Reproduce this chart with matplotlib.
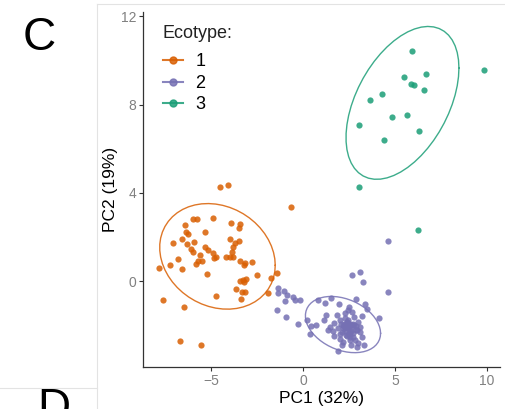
import numpy as np
import matplotlib
matplotlib.use("Agg")
import matplotlib.pyplot as plt
from matplotlib.lines import Line2D

plt.rcParams['font.family'] = ['Liberation Sans', 'DejaVu Sans']

# PCA scores
eco1_x = [-4.49, -4.09, -0.65, -5.98, -5.76, -4.91, -3.93, -3.44, -3.48, -6.41,
          -6.34, -6.23, -5.33, -6.59, -7.08, -6.32, -5.92, -6.09, -6.00, -3.99,
          -3.70, -3.48, -3.80, -3.84, -5.33, -5.15, -4.87, -4.71, -4.85, -5.60,
          -5.69, -5.51, -5.82, -4.20, -3.97, -3.80, -6.81, -7.23, -7.81, -6.58,
          -5.24, -3.42, -3.15, -3.21, -2.75, -2.50, -1.41, -1.76, -3.10, -3.28,
          -3.44, -3.22, -3.64, -3.30, -3.17, -4.73, -3.39, -1.90, -7.61, -6.48,
          -6.67, -5.54]
eco1_y = [4.26, 4.35, 3.35, 2.82, 2.80, 2.85, 2.62, 2.58, 2.41, 2.52,
          2.24, 2.12, 2.21, 1.89, 1.74, 1.70, 1.77, 1.47, 1.32, 1.89,
          1.74, 1.82, 1.53, 1.33, 1.53, 1.41, 1.26, 1.08, 1.06, 1.18,
          0.92, 0.89, 0.77, 1.11, 1.08, 1.09, 1.02, 0.74, 0.58, 0.53,
          0.33, 0.91, 0.83, 0.73, 0.88, 0.29, 0.38, 0.12, 0.08, 0.05,
          0.01, -0.06, -0.36, -0.49, -0.50, -0.67, -0.80, -0.56, -0.85, -1.17,
          -2.73, -2.88]

eco2_x = [2.66, 3.10, 3.24, 4.64, 4.64, -1.34, -1.02, -0.85, -0.53, -0.45,
          -0.15, -0.99, -1.43, -0.92, -1.38, 0.82, 1.21, 1.52, 1.97, 2.52,
          2.86, 3.39, 3.46, 4.13, -0.27, 0.20, 0.43, 0.71, 0.38, 1.23,
          1.14, 1.83, 1.47, 1.68, 2.01, 2.25, 2.43, 2.64, 2.79, 3.01,
          3.10, 1.38, 1.65, 1.87, 2.10, 2.28, 2.46, 2.55, 2.73, 2.92,
          3.10, 2.38, 2.01, 2.19, 2.55, 2.83, 3.01, 3.19, 2.10, 2.92,
          1.92, 3.32, 2.73, 2.41, 2.19, 2.64, 2.70, 2.90, 2.50, 2.30,
          3.20, 2.60, 2.00, 1.70,
          # dense core, overlapping dots
          2.35, 2.45, 2.55, 2.25, 2.65, 2.40, 2.50, 2.30, 2.60, 2.20,
          2.75, 2.35, 2.45, 2.15, 2.55, 2.85, 2.40, 2.05]
eco2_y = [0.27, 0.42, -0.05, -0.49, 1.80, -0.33, -0.44, -0.62, -0.71, -0.86,
          -0.85, -0.92, -1.32, -1.62, -0.56, -0.85, -1.02, -0.76, -1.06, -1.17,
          -0.83, -1.03, -1.26, -1.67, -1.97, -1.77, -2.02, -2.00, -2.41, -1.52,
          -1.79, -1.53, -2.08, -1.91, -1.77, -1.47, -1.32, -1.41, -1.65, -1.85,
          -2.08, -2.24, -2.26, -2.15, -2.30, -2.15, -2.08, -2.30, -2.38, -2.23,
          -2.30, -2.50, -2.61, -2.76, -2.68, -2.68, -2.83, -2.53, -2.91, -3.01,
          -3.17, -2.91, -2.53, -1.85, -2.00, -2.00, -1.95, -2.05, -2.40, -1.70,
          -1.60, -2.90, -2.40, -2.50,
          -2.05, -2.15, -1.95, -2.25, -2.10, -1.85, -2.35, -1.95, -2.25, -2.05,
          -2.00, -2.45, -1.75, -2.15, -2.55, -2.20, -2.10, -1.95]

eco3_x = [5.92, 6.70, 5.47, 5.87, 6.05, 6.56, 4.29, 3.63, 4.82, 5.64,
          3.03, 6.30, 4.39, 3.04, 9.84, 6.27]
eco3_y = [10.41, 9.40, 9.27, 8.94, 8.90, 8.67, 8.50, 8.20, 7.45, 7.53,
          7.06, 6.82, 6.41, 4.27, 9.58, 2.32]

labels = ['1', '2', '3']
colors = ['#D95F02', '#7570B3', '#1B9E77']


def cov_trob(x, nu=5, maxit=25, tol=0.01):
    # multivariate t estimate, as MASS::cov.trob
    n, p = x.shape
    loc = x.mean(axis=0)
    w = np.ones(n)
    for _ in range(maxit):
        w0 = w
        X = x - loc
        _, d, vt = np.linalg.svd(np.sqrt(w / w.sum())[:, None] * X, full_matrices=False)
        wX = X @ vt.T @ np.diag(1 / d)
        Q = (wX ** 2).sum(axis=1)
        w = (nu + p) / (nu + Q)
        loc = (w[:, None] * x).sum(axis=0) / w.sum()
        if np.all(np.abs(w - w0) < tol):
            break
    X = x - loc
    cov = (np.sqrt(w)[:, None] * X).T @ (np.sqrt(w)[:, None] * X) / n
    return loc, cov


def t_ellipse(xs, ys, level=0.9, segments=51):
    data = np.column_stack([xs, ys])
    center, shape = cov_trob(data)
    dfd = len(xs) - 1
    # F(2, dfd) quantile in closed form
    fq = dfd / 2 * ((1 - level) ** (-2 / dfd) - 1)
    radius = np.sqrt(2 * fq)
    ang = np.linspace(0, 2 * np.pi, segments + 1)
    circ = np.column_stack([np.cos(ang), np.sin(ang)])
    R = np.linalg.cholesky(shape).T
    e = center + radius * circ @ R
    return e[:, 0], e[:, 1]


fig = plt.figure(figsize=(5.06, 4.09), dpi=100)
ax = fig.add_axes([143 / 506, 42 / 409, 357 / 506, 355 / 409])

groups = [(eco1_x, eco1_y), (eco2_x, eco2_y), (eco3_x, eco3_y)]
for (gx, gy), c in zip(groups, colors):
    ax.scatter(gx, gy, s=20, color=c, alpha=0.85, linewidths=0, zorder=3)
    ex, ey = t_ellipse(gx, gy)
    ax.plot(ex, ey, color=c, lw=1.0, alpha=0.85, zorder=2)

ax.set_xlim(-8.7, 10.7)
ax.set_ylim(-3.9, 12.2)
ax.set_xticks([-5, 0, 5, 10])
ax.set_yticks([0, 4, 8, 12])
for s in ['top', 'right']:
    ax.spines[s].set_visible(False)
for s in ['left', 'bottom']:
    ax.spines[s].set_color('#333333')
    ax.spines[s].set_linewidth(0.9)
ax.tick_params(length=3, width=0.8, color='#333333', labelcolor='#808080',
               labelsize=10, pad=2)
ax.set_xlabel('PC1 (32%)', fontsize=12.5, labelpad=2)
ax.set_ylabel('PC2 (19%)', fontsize=12.5, labelpad=2)

handles = [Line2D([], [], color=c, marker='o', markersize=5, lw=1.5, alpha=0.85)
           for c in colors]
leg = ax.legend(handles, labels, title='Ecotype:', loc='upper left',
                bbox_to_anchor=(0.02, 1.0), frameon=False, fontsize=13,
                title_fontsize=13, handlelength=1.1, handletextpad=0.7,
                labelspacing=0.25, alignment='left', borderaxespad=0.3)
leg.get_title().set_color('#222222')
leg._legend_box.sep = 8.5

# panel frame and letters
fig.add_artist(Line2D([97 / 506, 97 / 506], [0, 1 - 4 / 409], color='#E3E3E3', lw=0.8))
fig.add_artist(Line2D([97 / 506, 1], [1 - 4 / 409, 1 - 4 / 409], color='#E3E3E3', lw=0.8))
fig.add_artist(Line2D([0, 97 / 506], [1 - 388 / 409, 1 - 388 / 409], color='#E3E3E3', lw=0.8))
fig.text(39 / 506, 1 - 38 / 409, 'C', fontsize=33, ha='center', va='center')
fig.text(54 / 506, 1 - 387 / 409, 'D', fontsize=33, ha='center', va='top')

fig.savefig('out.png', dpi=100)
